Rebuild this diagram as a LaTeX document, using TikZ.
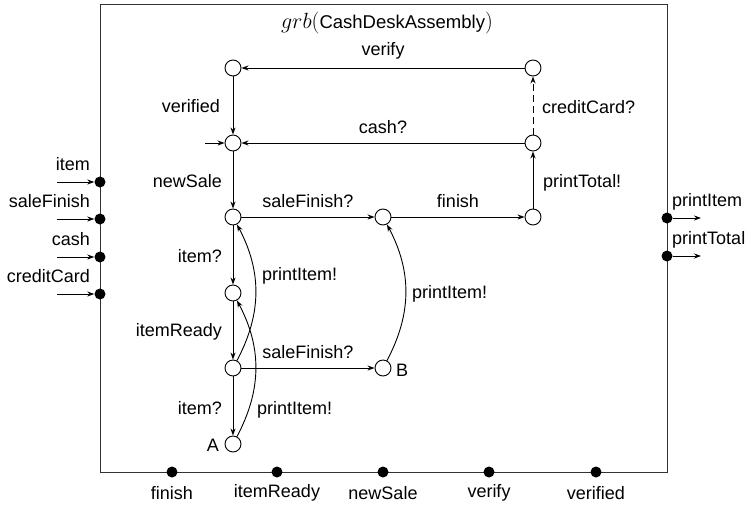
\RequirePackage{fix-cm}
\documentclass[tikz,border=0pt]{standalone}
\usepackage{fontspec}
\setmainfont{Liberation Sans}
\usetikzlibrary{arrows.meta}
\newcommand{\titlemath}[1]{{\fontsize{22}{24}\selectfont$#1$}}
\begin{document}
\begin{tikzpicture}[x=1pt,y=-1pt,
  every node/.style={font=\fontsize{18}{21}\selectfont},
  st/.style={circle,draw,line width=0.9pt,minimum size=16pt,inner sep=0pt},
  port/.style={circle,fill=black,minimum size=11pt,inner sep=0pt},
  tr/.style={line width=0.9pt,-{Stealth[length=7pt,width=5pt]}},
  lbl/.style={inner sep=0pt}]
\useasboundingbox (0,0) rectangle (753,507);
\draw[line width=1pt,black!80] (100,4) rectangle (667,472);
\node[lbl,font=\fontsize{18.5}{22}\selectfont] (title) at (387,23) {\titlemath{grb(}CashDeskAssembly\titlemath{)}};
% states
\node[st] (V) at (233,68) {};
\node[st] (N) at (233,143) {};
\node[st] (S1) at (233,217) {};
\node[st] (S2) at (233,293) {};
\node[st] (S3) at (233,368) {};
\node[st] (A) at (233,444) {};
\node[st] (F) at (383,217) {};
\node[st] (B) at (383,368) {};
\node[st] (P) at (533,217) {};
\node[st] (C) at (533,143) {};
\node[st] (D) at (533,68) {};
\node[lbl,anchor=east] (Alab) at (219,445) {A};
\node[lbl,anchor=west] (Blab) at (396,370) {B};
% ports
\node[port] (pi) at (100,182) {};
\node[port] (ps) at (100,219) {};
\node[port] (pc) at (100,257) {};
\node[port] (pcc) at (100,294) {};
\coordinate (ii) at (57,182);
\coordinate (is) at (57,219);
\coordinate (ic) at (57,257);
\coordinate (icc) at (57,294);
\draw[tr] (ii) -- (pi);
\draw[tr] (is) -- (ps);
\draw[tr] (ic) -- (pc);
\draw[tr] (icc) -- (pcc);
\node[lbl,anchor=east] at (90,164) {item};
\node[lbl,anchor=east] at (90,201) {saleFinish};
\node[lbl,anchor=east] at (90,239) {cash};
\node[lbl,anchor=east] at (90,276) {creditCard};
\node[port] (po1) at (667,218) {};
\node[port] (po2) at (667,256) {};
\coordinate (oo1) at (701,218);
\coordinate (oo2) at (701,256);
\draw[tr] (po1) -- (oo1);
\draw[tr] (po2) -- (oo2);
\node[lbl,anchor=west] at (672,202) {printItem};
\node[lbl,anchor=west] at (672,240) {printTotal};
% bottom ports
\node[port] (b1) at (172,472) {};
\node[port] (b2) at (277,472) {};
\node[port] (b3) at (383,472) {};
\node[port] (b4) at (489,472) {};
\node[port] (b5) at (596,472) {};
\node[lbl] at (172,493) {finish};
\node[lbl] at (277,493) {itemReady};
\node[lbl] at (383,493) {newSale};
\node[lbl] at (489,493) {verify};
\node[lbl] at (596,493) {verified};
% transitions
\coordinate (init) at (205,143);
\draw[tr] (init) -- (N);
\draw[tr] (D) -- (V);
\draw[tr] (V) -- (N);
\draw[tr] (C) -- (N);
\draw[tr,dashed,dash pattern=on 7pt off 4pt] (C) -- (D);
\draw[tr] (N) -- (S1);
\draw[tr] (S1) -- (F);
\draw[tr] (F) -- (P);
\draw[tr] (P) -- (C);
\draw[tr] (S1) -- (S2);
\draw[tr] (S2) -- (S3);
\draw[tr] (S3) -- (B);
\draw[tr] (S3) -- (A);
\draw[tr] (S3) to[bend right=28] (S1);
\draw[tr] (A) to[bend right=28] (S2);
\draw[tr] (B) to[bend right=28] (F);
% labels
\node[lbl] at (383,51) {verify};
\node[lbl,anchor=east] at (220,106) {verified};
\node[lbl] at (383,127) {cash?};
\node[lbl,anchor=west] at (542,107) {creditCard?};
\node[lbl,anchor=west] at (543,183) {printTotal!};
\node[lbl,anchor=east] at (222,181) {newSale};
\node[lbl] at (308,201) {saleFinish?};
\node[lbl] at (458,201) {finish};
\node[lbl,anchor=east] at (222,256) {item?};
\node[lbl,anchor=west] at (262,276) {printItem!};
\node[lbl,anchor=east] at (222,332) {itemReady};
\node[lbl] at (308,352) {saleFinish?};
\node[lbl,anchor=west] at (412,294) {printItem!};
\node[lbl,anchor=east] at (222,408) {item?};
\node[lbl,anchor=west] at (257,410) {printItem!};
\end{tikzpicture}
\end{document}
